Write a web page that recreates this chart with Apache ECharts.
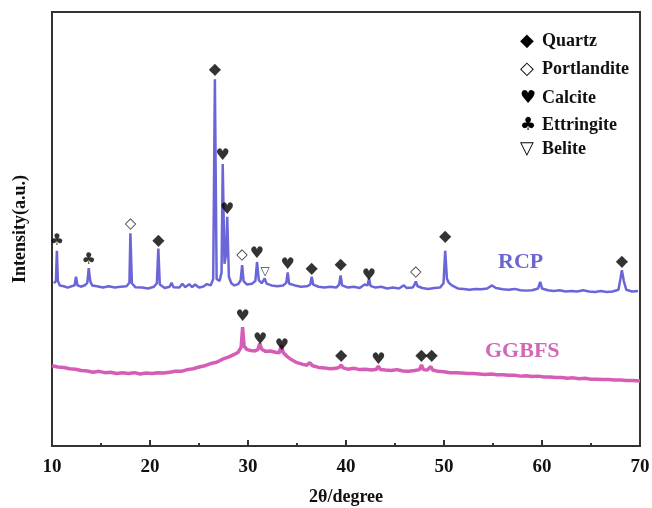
<!DOCTYPE html>
<html>
<head>
<meta charset="utf-8">
<script src="https://cdn.jsdelivr.net/npm/echarts@6/dist/echarts.min.js"></script>
<style>
  html, body { margin: 0; padding: 0; background: #fff; }
  #chart { width: 652px; height: 508px; }
</style>
</head>
<body>
<div id="chart"></div>
<script>
// x ticks
const xTicks = [10, 20, 30, 40, 50, 60, 70];

// RCP pattern [2theta, intensity a.u.]
const rcpData = [
  [10.2, 37.5], [10.4, 38], [10.5, 45], [10.6, 38], [10.8, 37], [11.2, 36.8], [11.6, 36.5], [12.0, 36.8],
  [12.3, 37], [12.45, 39], [12.6, 37], [13.0, 36.7], [13.4, 37.1], [13.6, 37.6], [13.75, 41], [13.9, 38],
  [14.1, 37], [14.6, 36.8], [15.2, 36.5], [15.8, 36.8], [16.4, 36.5], [17.0, 36.7], [17.6, 36.8], [17.9, 37.6],
  [18.0, 49], [18.15, 37.5], [18.5, 36.6], [19.2, 36.5], [19.8, 36.3], [20.4, 36.7], [20.7, 37.5], [20.85, 45.5],
  [21.0, 37.2], [21.5, 36.4], [22.0, 36.7], [22.2, 37.6], [22.4, 36.6], [23.0, 36.5], [23.3, 37.4], [23.6, 36.6],
  [24.0, 37.3], [24.3, 36.6], [24.6, 37.2], [25.0, 36.5], [25.4, 36.7], [25.8, 37.3], [26.2, 37], [26.45, 38.5],
  [26.62, 84.5], [26.8, 38.5], [27.1, 38], [27.3, 40], [27.42, 65], [27.6, 42], [27.75, 44], [27.88, 52.8],
  [28.05, 39], [28.3, 37.5], [28.6, 37], [29.0, 37.3], [29.25, 38.2], [29.4, 41.7], [29.55, 38], [29.9, 37.2],
  [30.4, 37.4], [30.75, 38], [30.92, 42.4], [31.1, 38.2], [31.4, 37.5], [31.7, 38.6], [31.9, 37.4], [32.4, 37],
  [33.0, 36.8], [33.6, 37], [33.9, 37.6], [34.05, 40], [34.2, 37.4], [34.8, 37], [35.4, 36.7], [36.0, 36.8],
  [36.35, 37.2], [36.5, 39], [36.65, 37.2], [37.2, 36.7], [37.8, 36.5], [38.4, 36.7], [39.0, 36.5], [39.3, 37.2],
  [39.45, 39.3], [39.6, 37], [40.2, 36.5], [40.8, 36.7], [41.4, 36.4], [41.9, 37.2], [42.2, 37], [42.35, 38.6],
  [42.5, 36.9], [43.0, 36.5], [43.6, 36.7], [44.2, 36.3], [44.8, 36.5], [45.4, 36.3], [45.9, 37], [46.2, 36.4],
  [46.8, 36.5], [47.0, 37.2], [47.12, 37.9], [47.3, 36.8], [47.8, 36.4], [48.4, 36.2], [49.0, 36.4], [49.6, 36.5],
  [49.95, 37.5], [50.12, 45], [50.3, 38.5], [50.5, 37.6], [50.8, 37], [51.4, 36.3], [52.0, 36.2], [52.6, 36.0],
  [53.2, 36.2], [53.8, 36.1], [54.4, 36.3], [54.9, 37], [55.3, 36.4], [56.0, 36.1], [56.6, 36.0], [57.2, 36.2],
  [57.8, 35.9], [58.4, 35.8], [59.0, 35.9], [59.6, 36.3], [59.82, 37.8], [60.0, 36.3], [60.6, 35.9], [61.2, 35.7],
  [61.8, 35.9], [62.4, 35.6], [63.0, 35.7], [63.6, 35.6], [64.2, 35.9], [64.8, 35.6], [65.4, 35.5], [66.0, 35.7],
  [66.6, 35.5], [67.2, 35.6], [67.8, 36], [68.0, 38.5], [68.15, 40.5], [68.35, 38], [68.6, 36], [69.2, 35.6],
  [69.8, 35.7]
];

// GGBFS pattern [2theta, intensity a.u.]
const ggbfsData = [
  [10.0, 18.5], [10.6, 18.2], [11.2, 18.1], [11.8, 17.8], [12.4, 17.7], [13.0, 17.4], [13.6, 17.3], [14.2, 17.0],
  [14.8, 17.2], [15.4, 16.9], [16.0, 17.0], [16.6, 16.7], [17.2, 16.9], [17.8, 16.7], [18.4, 16.9], [19.0, 16.6],
  [19.6, 16.8], [20.2, 16.7], [20.8, 16.9], [21.4, 16.8], [22.0, 17.0], [22.6, 17.2], [23.2, 17.2], [23.8, 17.6],
  [24.4, 17.8], [25.0, 18.2], [25.6, 18.5], [26.2, 19.0], [26.8, 19.3], [27.4, 20.0], [28.0, 20.5], [28.6, 21.1],
  [29.0, 21.6], [29.3, 22.8], [29.45, 27.4], [29.6, 23], [29.9, 22.2], [30.3, 22], [30.7, 21.9], [31.0, 22.2],
  [31.2, 23.6], [31.4, 22.3], [31.8, 21.8], [32.3, 21.9], [32.8, 21.6], [33.2, 21.5], [33.4, 23.2], [33.6, 21.5],
  [34.0, 20.6], [34.5, 19.8], [35.0, 19.2], [35.6, 18.8], [36.0, 18.6], [36.3, 19.2], [36.6, 18.5], [37.2, 18.1],
  [37.8, 18.0], [38.4, 17.8], [39.0, 17.9], [39.35, 18.2], [39.5, 18.7], [39.7, 18.0], [40.2, 17.7], [40.8, 17.9],
  [41.4, 17.6], [42.0, 17.7], [42.6, 17.5], [43.1, 17.7], [43.3, 18.4], [43.5, 17.6], [44.0, 17.5], [44.6, 17.4],
  [45.2, 17.6], [45.8, 17.3], [46.4, 17.2], [47.0, 17.4], [47.5, 17.6], [47.7, 18.7], [47.9, 17.6], [48.3, 17.5],
  [48.65, 18.3], [48.85, 17.5], [49.4, 17.2], [50.0, 17.1], [50.6, 16.9], [51.2, 16.9], [51.8, 16.8], [52.4, 16.7],
  [53.0, 16.7], [53.6, 16.6], [54.2, 16.5], [54.8, 16.6], [55.4, 16.4], [56.0, 16.4], [56.6, 16.3], [57.2, 16.3],
  [57.8, 16.1], [58.4, 16.2], [59.0, 16.0], [59.6, 16.1], [60.2, 15.9], [60.8, 15.9], [61.4, 15.8], [62.0, 15.8],
  [62.6, 15.6], [63.2, 15.7], [63.8, 15.5], [64.4, 15.6], [65.0, 15.4], [65.6, 15.4], [66.2, 15.3], [66.8, 15.3],
  [67.4, 15.2], [68.0, 15.2], [68.6, 15.1], [69.2, 15.1], [70.0, 15.0]
];

// phase markers [2theta, marker height]
const quartzMarks = [[20.85, 47.2], [26.62, 86.6], [36.5, 40.8], [39.45, 41.7], [50.12, 48.2], [68.15, 42.4],
  [39.5, 20.7], [47.7, 20.7], [48.75, 20.7]];
const portlanditeMarks = [[18.0, 51.2], [29.4, 44], [47.12, 40.1]];
const calciteMarks = [[27.42, 66.8], [27.88, 54.4], [30.92, 44.2], [34.05, 41.7], [42.35, 39.2],
  [29.45, 29.7], [31.25, 24.4], [33.45, 23], [43.3, 19.8]];
const ettringiteMarks = [[10.5, 47.2], [13.75, 42.9]];
const beliteMarks = [[31.75, 40.1]];

const phaseNames = ['Quartz', 'Portlandite', 'Calcite', 'Ettringite', 'Belite'];
const phaseGlyphs = ['\u25C6', '\u25C7', '\u2665', '\u2663', '\u25BD'];
const phaseMarks = [quartzMarks, portlanditeMarks, calciteMarks, ettringiteMarks, beliteMarks];

const sampleNames = ['RCP', 'GGBFS'];
const sampleColors = ['#6a66d8', '#d65db5'];

const chart = echarts.init(document.getElementById('chart'));

const serif = '"Liberation Serif", "Times New Roman", serif';
const glyphFont = '"DejaVu Sans", sans-serif';
const glyphSizes = [16, 15, 16, 16, 12];

const markSeries = phaseMarks.map((marks, i) => ({
  name: phaseNames[i],
  type: 'scatter',
  data: marks,
  symbol: 'circle',
  symbolSize: 1,
  itemStyle: { color: 'rgba(0,0,0,0)' },
  label: {
    show: true,
    position: 'inside',
    formatter: phaseGlyphs[i],
    color: '#000',
    fontSize: glyphSizes[i],
    fontFamily: glyphFont
  },
  z: 5
}));

const legendGraphics = [];
phaseNames.forEach((name, i) => {
  const yc = [42, 70, 99, 126, 150][i];
  legendGraphics.push({
    type: 'text', left: 520, top: yc - 10,
    style: { text: phaseGlyphs[i], fontSize: 18, fontFamily: glyphFont, fill: '#000' }
  });
  legendGraphics.push({
    type: 'text', left: 542, top: yc - 10,
    style: { text: name, fontSize: 18, fontWeight: 'bold', fontFamily: serif, fill: '#111' }
  });
});

const option = {
  animation: false,
  backgroundColor: '#fff',
  grid: {
    left: 52, right: 12, top: 12, bottom: 62,
    outerBoundsMode: 'none',
    show: true, borderColor: '#333', borderWidth: 2
  },
  xAxis: {
    type: 'value',
    min: 10, max: 70, interval: 10,
    name: '2\u03B8/degree',
    nameLocation: 'middle',
    nameGap: 42,
    nameTextStyle: { fontSize: 18, fontWeight: 'bold', fontFamily: serif, color: '#111' },
    axisLine: { lineStyle: { color: '#333', width: 2 } },
    axisTick: { inside: true, length: 6, lineStyle: { color: '#333', width: 2 } },
    minorTick: { show: true, splitNumber: 2, length: 3, lineStyle: { color: '#333', width: 2 } },
    axisLabel: { fontSize: 19, fontWeight: 'bold', fontFamily: serif, color: '#111', margin: 12 },
    splitLine: { show: false }
  },
  yAxis: {
    type: 'value',
    min: 0, max: 100,
    name: 'Intensity(a.u.)',
    nameLocation: 'middle',
    nameGap: 23,
    nameTextStyle: { fontSize: 18, fontWeight: 'bold', fontFamily: serif, color: '#111' },
    axisLine: { show: true, lineStyle: { color: '#333', width: 2 } },
    axisTick: { show: false },
    axisLabel: { show: false },
    splitLine: { show: false }
  },
  graphic: legendGraphics.concat([
    { type: 'text', left: 498, top: 251,
      style: { text: sampleNames[0], fontSize: 22, fontWeight: 'bold', fontFamily: serif, fill: '#6b66d0' } },
    { type: 'text', left: 485, top: 340,
      style: { text: sampleNames[1], fontSize: 22, fontWeight: 'bold', fontFamily: serif, fill: '#d068b8' } }
  ]),
  series: [
    {
      name: sampleNames[0], type: 'line', data: rcpData, showSymbol: false, smooth: false,
      lineStyle: { color: sampleColors[0], width: 2.5 }, z: 3
    },
    {
      name: sampleNames[1], type: 'line', data: ggbfsData, showSymbol: false, smooth: false,
      lineStyle: { color: sampleColors[1], width: 3.5 }, z: 3
    }
  ].concat(markSeries)
};

chart.setOption(option);
window.addEventListener('resize', () => chart.resize());
</script>
</body>
</html>
